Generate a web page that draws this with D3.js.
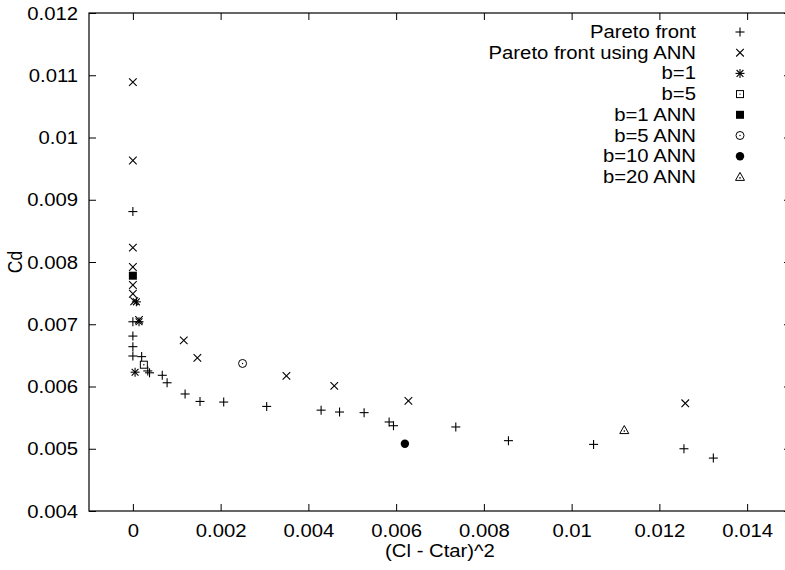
<!DOCTYPE html>
<html>
<head>
<meta charset="utf-8">
<script src="https://cdn.jsdelivr.net/npm/d3@7"></script>
<style>
  body { margin: 0; background: #fff; }
  svg { display: block; }
  text { font-family: "Liberation Sans", Arial, sans-serif; fill: #000; }
</style>
</head>
<body>
<div id="chart"></div>
<script>
// values
var xTicks = [0, 0.002, 0.004, 0.006, 0.008, 0.01, 0.012, 0.014];
var yTicks = [0.004, 0.005, 0.006, 0.007, 0.008, 0.009, 0.01, 0.011, 0.012];

var paretoX = [0, 0, 0, 0, 0, 0.0002, 0.00034, 0.00038, 0.00067, 0.00078, 0.00119, 0.00153, 0.00207, 0.00305,
               0.00429, 0.00471, 0.00527, 0.00584, 0.00594, 0.00736, 0.00856, 0.0105, 0.01256, 0.01323];
var paretoY = [0.00881, 0.00704, 0.00681, 0.00664, 0.00649, 0.00648, 0.00625, 0.00622, 0.00618, 0.00606, 0.00588, 0.00576, 0.00575, 0.00568,
               0.00562, 0.00559, 0.00558, 0.00543, 0.00537, 0.00535, 0.00513, 0.00507, 0.0050, 0.00485];

var annX = [0, 0, 0, 0, 0, 0, 0.00003, 0.00014, 0.00116, 0.00147, 0.0035, 0.00459, 0.00628, 0.01259];
var annY = [0.01089, 0.00963, 0.00823, 0.00792, 0.00763, 0.00749, 0.00737, 0.00707, 0.00674, 0.00646, 0.00617, 0.00601, 0.00577, 0.00573];

var b1X = [0.00008, 0.00014, 0.00005];
var b1Y = [0.00736, 0.00704, 0.00623];
var b5X = [0.00025];
var b5Y = [0.00635];
var b1annX = [0];
var b1annY = [0.00778];
var b5annX = [0.0025];
var b5annY = [0.00637];
var b10annX = [0.0062];
var b10annY = [0.00508];
var b20annX = [0.0112];
var b20annY = [0.0053];

var seriesNames = ["Pareto front", "Pareto front using ANN", "b=1", "b=5", "b=1 ANN", "b=5 ANN", "b=10 ANN", "b=20 ANN"];
var seriesX = [paretoX, annX, b1X, b5X, b1annX, b5annX, b10annX, b20annX];
var seriesY = [paretoY, annY, b1Y, b5Y, b1annY, b5annY, b10annY, b20annY];
var seriesMark = ["plus", "cross", "star", "boxdot", "box", "circdot", "dot", "tri"];

var W = 785, H = 570;
var plotLeft = 89, plotRight = 791, plotTop = 13, plotBottom = 511;
var stretch = 1.16;  // the glyphs look wider than tall

var svg = d3.select("#chart").append("svg").attr("width", W).attr("height", H);

var x = d3.scaleLinear().domain([-0.001, 0.015]).range([plotLeft, plotRight]);
var y = d3.scaleLinear().domain([0.004, 0.012]).range([plotBottom, plotTop]);

var fmt = function(d) { return String(+d.toFixed(4)); };

// frame
svg.append("rect")
  .attr("x", plotLeft).attr("y", plotTop)
  .attr("width", plotRight - plotLeft).attr("height", plotBottom - plotTop)
  .attr("fill", "none").attr("stroke", "#000").attr("stroke-width", 1.2);

function styleAxis(g) {
  g.select(".domain").remove();
  g.selectAll("line").attr("stroke", "#000").attr("stroke-width", 1);
}

var gx = svg.append("g").attr("transform", "translate(0," + plotBottom + ")")
  .call(d3.axisBottom(x).tickValues(xTicks).tickSize(-7).tickSizeOuter(0).tickFormat(fmt));
styleAxis(gx);
gx.selectAll("text")
  .attr("y", null).attr("dy", null)
  .attr("font-size", 17.5)
  .attr("transform", "translate(0,26) scale(" + stretch + ",1)");

var gxTop = svg.append("g").attr("transform", "translate(0," + plotTop + ")")
  .call(d3.axisTop(x).tickValues(xTicks).tickSize(-7).tickSizeOuter(0).tickFormat(""));
styleAxis(gxTop);

var gy = svg.append("g").attr("transform", "translate(" + plotLeft + ",0)")
  .call(d3.axisLeft(y).tickValues(yTicks).tickSize(-7).tickSizeOuter(0).tickFormat(fmt));
styleAxis(gy);
gy.selectAll("text")
  .attr("x", null).attr("dy", null)
  .attr("font-size", 17.5)
  .attr("transform", "translate(-11,6) scale(" + stretch + ",1)");

var gyRight = svg.append("g").attr("transform", "translate(" + plotRight + ",0)")
  .call(d3.axisRight(y).tickValues(yTicks).tickSize(-7).tickSizeOuter(0).tickFormat(""));
styleAxis(gyRight);

// axis titles
svg.append("text")
  .attr("text-anchor", "middle").attr("font-size", 17.5)
  .attr("transform", "translate(" + ((plotLeft + plotRight) / 2) + ",557) scale(" + stretch + ",1)")
  .text("(Cl - Ctar)^2");

svg.append("text")
  .attr("text-anchor", "middle").attr("font-size", 17.5)
  .attr("transform", "translate(22,262) rotate(-90) scale(1," + stretch + ")")
  .text("Cd");

// point markers
function drawMark(g, kind, cx, cy) {
  var s = 4.5;
  function line(x1, y1, x2, y2) {
    g.append("line").attr("x1", cx + x1).attr("y1", cy + y1).attr("x2", cx + x2).attr("y2", cy + y2)
      .attr("stroke", "#000").attr("stroke-width", 1.1);
  }
  function dot() {
    g.append("circle").attr("cx", cx).attr("cy", cy).attr("r", 0.7).attr("fill", "#000");
  }
  if (kind === "plus" || kind === "star") {
    line(-s, 0, s, 0);
    line(0, -s, 0, s);
  }
  if (kind === "cross" || kind === "star") {
    var c = kind === "star" ? 3.4 : 3.8;
    line(-c, -c, c, c);
    line(-c, c, c, -c);
  }
  if (kind === "boxdot") {
    g.append("rect").attr("x", cx - 3.5).attr("y", cy - 3.5).attr("width", 7).attr("height", 7)
      .attr("fill", "none").attr("stroke", "#000").attr("stroke-width", 1);
    dot();
  }
  if (kind === "box") {
    g.append("rect").attr("x", cx - 4).attr("y", cy - 4).attr("width", 8).attr("height", 8).attr("fill", "#000");
  }
  if (kind === "circdot") {
    g.append("circle").attr("cx", cx).attr("cy", cy).attr("r", 4)
      .attr("fill", "none").attr("stroke", "#000").attr("stroke-width", 1);
    dot();
  }
  if (kind === "dot") {
    g.append("circle").attr("cx", cx).attr("cy", cy).attr("r", 4.2).attr("fill", "#000");
  }
  if (kind === "tri") {
    g.append("path")
      .attr("d", "M" + cx + "," + (cy - 4.5) + "L" + (cx + 4.5) + "," + (cy + 3.5) + "L" + (cx - 4.5) + "," + (cy + 3.5) + "Z")
      .attr("fill", "none").attr("stroke", "#000").attr("stroke-width", 1);
    g.append("circle").attr("cx", cx).attr("cy", cy + 1).attr("r", 0.8).attr("fill", "#000");
  }
}

var plotG = svg.append("g");
seriesNames.forEach(function(name, i) {
  var g = plotG.append("g").attr("class", "series");
  seriesX[i].forEach(function(v, j) {
    drawMark(g, seriesMark[i], x(v), y(seriesY[i][j]));
  });
});

// legend
var legend = svg.append("g");
seriesNames.forEach(function(name, i) {
  var ly = 32 + i * 20.7;
  legend.append("text")
    .attr("text-anchor", "end").attr("font-size", 17.5)
    .attr("transform", "translate(696," + (ly + 6) + ") scale(" + stretch + ",1)")
    .text(name);
  drawMark(legend.append("g"), seriesMark[i], 740, ly);
});
</script>
</body>
</html>
